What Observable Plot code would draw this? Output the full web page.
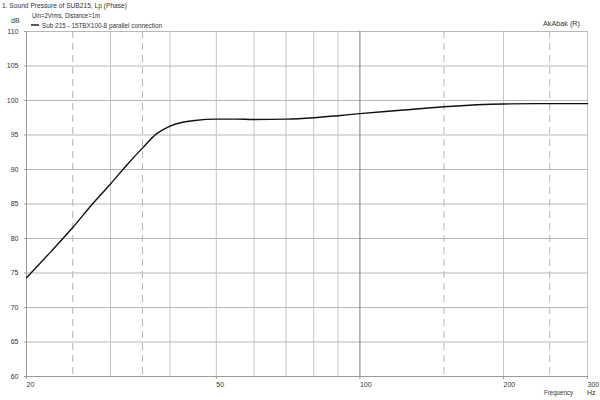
<!DOCTYPE html>
<html>
<head>
<meta charset="utf-8">
<script src="https://cdn.jsdelivr.net/npm/d3@7"></script>
<script src="https://cdn.jsdelivr.net/npm/@observablehq/plot@0.6"></script>
<style>
  html, body { margin: 0; padding: 0; background: #fff; }
  #chart { width: 600px; height: 400px; }
</style>
</head>
<body>
<div id="chart"></div>
<script>
// ---- data ----
const freq = [20, 22.5, 25, 27.5, 30, 32.5, 35, 37.5, 40, 42.5, 45, 50, 55, 60, 70, 80, 90, 100, 120, 150, 200, 250, 300];
const spl  = [74.3, 78.1, 81.6, 85.0, 87.9, 90.7, 93.1, 95.2, 96.3, 96.85, 97.1, 97.3, 97.3, 97.25, 97.3, 97.5, 97.8, 98.1, 98.55, 99.1, 99.5, 99.55, 99.55];

const yTicks = [60, 65, 70, 75, 80, 85, 90, 95, 100, 105, 110];
const xTickLabels = [20, 50, 100, 200, 300];
const solidGridX = [30, 40, 50, 60, 70, 80, 90, 200];
const dashedGridX = [25, 35, 150, 250];
const majorGridX = [100];

const titleText = "1. Sound Pressure of SUB215, Lp (Phase)";
const subtitleText = "Uin=2Vrms, Distance=1m";
const seriesName = "Sub 215 - 15TBX100-8 parallel connection";
const brandText = "AkAbak (R)";
const yUnit = "dB";
const xName = "Frequency";
const xUnit = "Hz";

const data = freq.map((f, i) => ({f, db: spl[i]}));

const FONT = "'Liberation Sans', Arial, sans-serif";

const plot = Plot.plot({
  width: 600,
  height: 400,
  marginLeft: 26,
  marginRight: 13,
  marginTop: 31,
  marginBottom: 24,
  style: {fontFamily: FONT, fontSize: "7px", color: "#333", background: "#fff"},
  x: {type: "log", domain: [20, 300]},
  y: {domain: [60, 110]},
  marks: [
    Plot.ruleY(yTicks, {stroke: "#b8b8b8", strokeWidth: 1}),
    Plot.ruleX(solidGridX, {stroke: "#c4c4c4", strokeWidth: 1}),
    Plot.ruleX(dashedGridX, {stroke: "#b4b4b4", strokeWidth: 1, strokeDasharray: "7,5"}),
    Plot.ruleX(majorGridX, {stroke: "#7a7a7a", strokeWidth: 1}),
    Plot.ruleX([300], {stroke: "#c4c4c4", strokeWidth: 1}),
    Plot.ruleX([20], {stroke: "#9a9a9a", strokeWidth: 1}),
    Plot.ruleY([60], {stroke: "#9a9a9a", strokeWidth: 1}),
    Plot.axisY(yTicks, {tickSize: 2, tickPadding: 6, label: null, stroke: "#9a9a9a", tickFormat: d => String(d)}),
    Plot.axisX(xTickLabels, {tickSize: 3, tickPadding: 3, label: null, textAnchor: "start", dx: 0, stroke: "#9a9a9a", tickFormat: d => String(d)}),
    Plot.line(data, {x: "f", y: "db", curve: "monotone-x", stroke: "#111", strokeWidth: 1.4})
  ]
});

document.getElementById("chart").appendChild(plot);

// annotations as real text
const svg = d3.select(plot);
const g = svg.append("g")
  .attr("font-family", FONT)
  .attr("font-size", "7px")
  .attr("fill", "#333")
  .attr("text-anchor", "start");
g.append("text").attr("x", 2).attr("y", 8).attr("textLength", 125).attr("lengthAdjust", "spacingAndGlyphs").text(titleText);
g.append("text").attr("x", 32).attr("y", 18).attr("textLength", 68).attr("lengthAdjust", "spacingAndGlyphs").text(subtitleText);
g.append("text").attr("x", 11).attr("y", 23).text(yUnit);
g.append("line").attr("x1", 31).attr("x2", 39).attr("y1", 25).attr("y2", 25).attr("stroke", "#111").attr("stroke-width", 1.4);
g.append("text").attr("x", 42).attr("y", 27.5).attr("textLength", 120).attr("lengthAdjust", "spacingAndGlyphs").text(seriesName);
g.append("text").attr("x", 543).attr("y", 26).attr("textLength", 37).attr("lengthAdjust", "spacingAndGlyphs").text(brandText);
g.append("text").attr("x", 544).attr("y", 395).attr("textLength", 29).attr("lengthAdjust", "spacingAndGlyphs").text(xName);
g.append("text").attr("x", 587).attr("y", 395).text(xUnit);
</script>
</body>
</html>
